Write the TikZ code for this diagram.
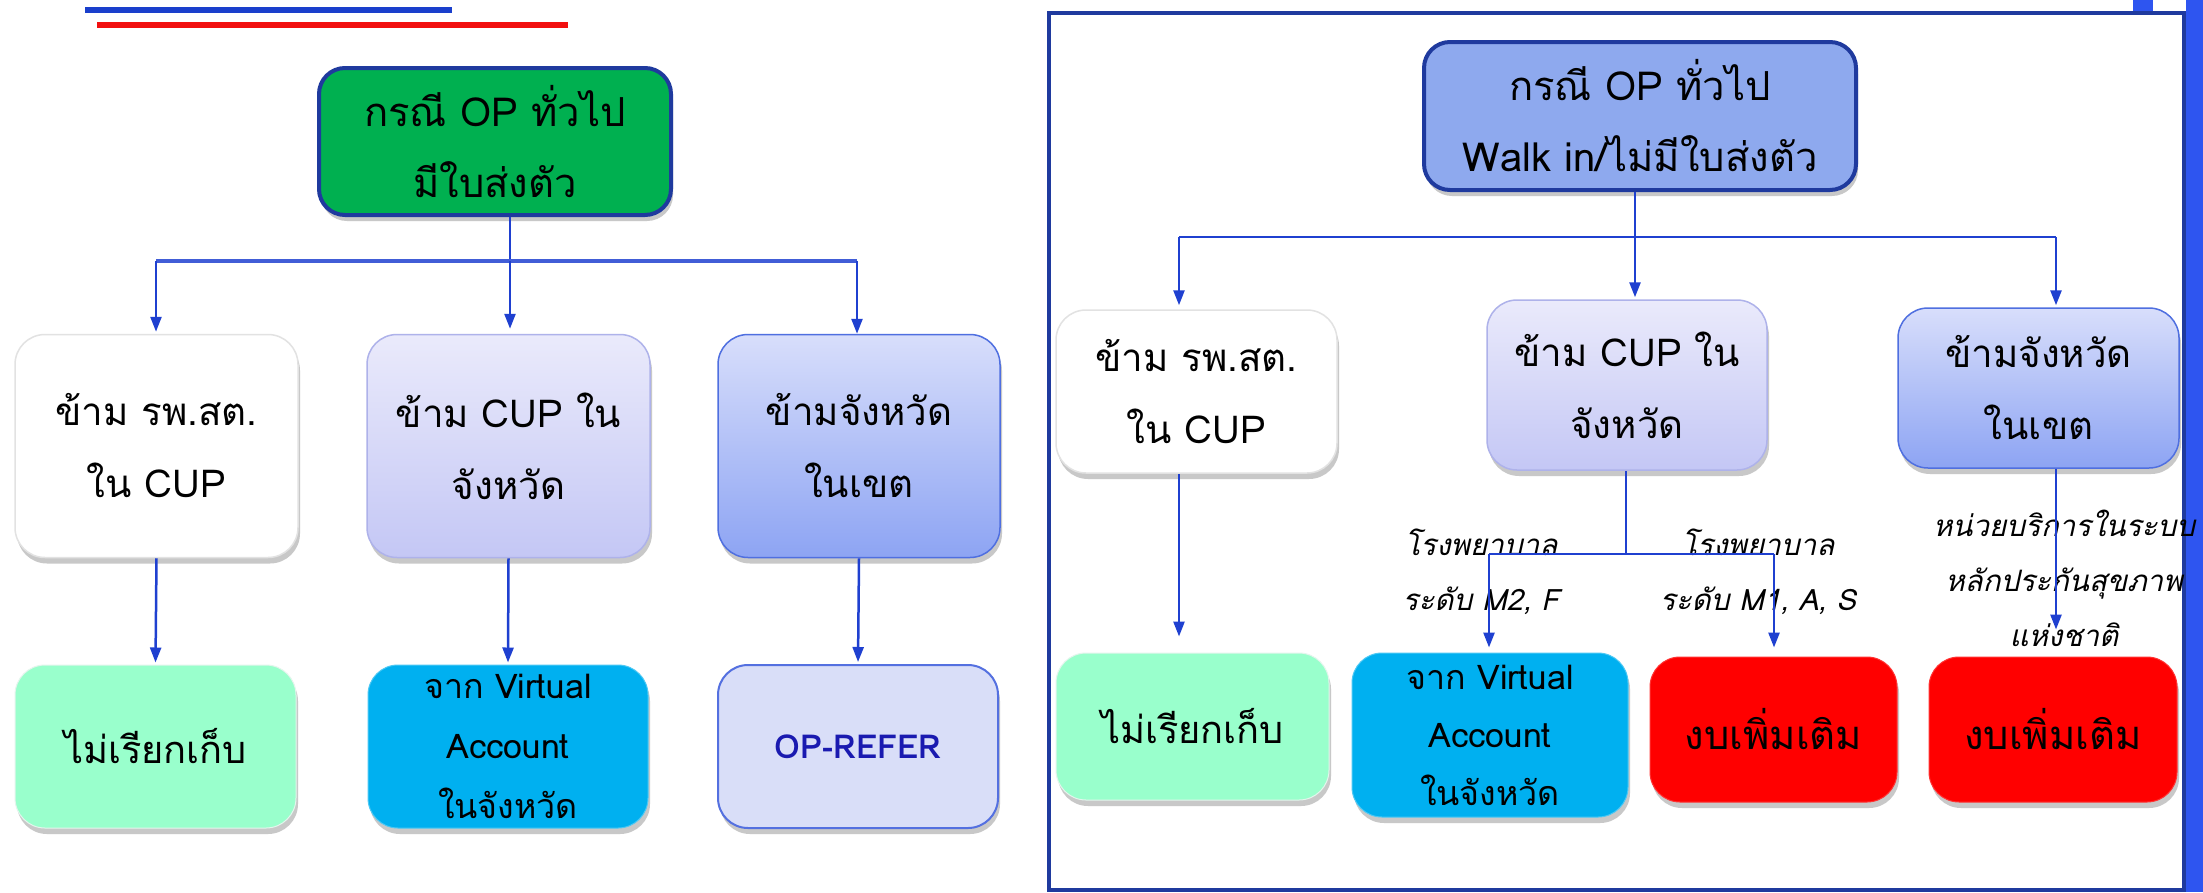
\documentclass[tikz,border=0pt]{standalone}
\usepackage{fontspec}
\newfontfamily\thaifont[Script=Thai]{Loma}
\newfontfamily\thaiitfont[Script=Thai,FakeSlant=0.22]{Loma}
\usetikzlibrary{arrows.meta,shadows,calc}
\definecolor{navy}{HTML}{1F3A9E}
\definecolor{conn}{HTML}{1F40D0}
\definecolor{greenbox}{HTML}{00B050}
\definecolor{topblue}{HTML}{8EA9EE}
\definecolor{mint}{HTML}{99FFCC}
\definecolor{cyanbox}{HTML}{00B0F0}
\definecolor{redbox}{HTML}{FF0000}
\definecolor{referfill}{HTML}{D9DEF8}
\definecolor{referborder}{HTML}{5470E0}
\definecolor{lavA}{HTML}{EAEAFB}
\definecolor{lavB}{HTML}{C4C7F5}
\definecolor{lavborder}{HTML}{AEB2EA}
\definecolor{bluA}{HTML}{D8DEFB}
\definecolor{bluB}{HTML}{8DA4F3}
\definecolor{bluborder}{HTML}{4F6FE0}
\definecolor{refertext}{HTML}{1A1AB0}
\definecolor{stripe}{HTML}{2E55F0}
\definecolor{greyborder}{HTML}{E2E2E2}
\definecolor{topline}{HTML}{1A3FCC}
\definecolor{topred}{HTML}{F21010}
\tikzset{
  box/.style={rounded corners=30pt, inner sep=0pt, align=center,
    font=\thaifont\fontsize{38.5}{72}\selectfont,
    drop shadow={shadow xshift=2pt, shadow yshift=-6pt, opacity=0.3, fill=black!70}},
  headbox/.style={box, rounded corners=26pt, draw=navy, line width=4pt,
    font=\thaifont\fontsize{40}{71}\selectfont},
  whitebox/.style={box, fill=white, draw=greyborder, line width=1.5pt},
  lavbox/.style={box, top color=lavA, bottom color=lavB, draw=lavborder, line width=1.5pt},
  blubox/.style={box, top color=bluA, bottom color=bluB, draw=bluborder, line width=1.5pt},
  mintbox/.style={box, fill=mint, draw=mint!80!black!20, line width=1pt,
    font=\thaifont\fontsize{38}{72}\selectfont},
  cyanstyle/.style={box, fill=cyanbox, draw=cyanbox!70!white, line width=1pt,
    font=\thaifont\fontsize{34}{60}\selectfont},
  referbox/.style={box, fill=referfill, draw=referborder, line width=2pt,
    font=\thaifont\bfseries\fontsize{33}{40}\selectfont, text=refertext},
  redstyle/.style={box, fill=redbox, draw=redbox!80!white, line width=1pt,
    font=\thaifont\fontsize{40}{72}\selectfont},
  lbl/.style={align=center, inner sep=0pt, font=\thaiitfont\fontsize{29.5}{55}\selectfont},
  conline/.style={draw=conn, line width=2.5pt},
  arr/.style={conline, -{Triangle[length=15pt,width=11pt]}},
}
\begin{document}
\begin{tikzpicture}[x=1pt,y=-1pt]
\useasboundingbox (0,0) rectangle (2203,892);
\fill[white] (0,0) rectangle (2203,892);

% top-left decoration lines
\draw[topline, line width=6pt] (85,10) -- (452,10);
\draw[topred, line width=6pt] (97,25) -- (568,25);

% right panel frame and stripe
\fill[stripe] (2186,0) rectangle (2203,892);
\fill[stripe] (2133,0) rectangle (2153,12);
\draw[navy, line width=4pt] (1049,13) rectangle (2184,890);

% ---------------- left panel ----------------
\node[headbox, fill=greenbox, minimum width=352pt, minimum height=147pt] (L0) at (495,141.5) {กรณี OP ทั่วไป\\มีใบส่งตัว};
\node[whitebox, minimum width=283pt, minimum height=223pt] (L1) at (156.5,446) {ข้าม รพ.สต.\\ใน CUP};
\node[lavbox, minimum width=283pt, minimum height=223pt] (L2) at (508.5,446) {ข้าม CUP ใน\\จังหวัด};
\node[blubox, minimum width=282pt, minimum height=223pt] (L3) at (859,446) {ข้ามจังหวัด\\ในเขต};
\node[mintbox, minimum width=281pt, minimum height=163pt] (L4) at (155.5,746.5) {ไม่เรียกเก็บ};
\node[cyanstyle, minimum width=280pt, minimum height=163pt] (L5) at (508,746.5) {จาก Virtual\\Account\\ในจังหวัด};
\node[referbox, minimum width=280pt, minimum height=163pt] (L6) at (858,746.5) {OP-REFER};

\coordinate (Lj) at (510,261);
\coordinate (Lh1) at (156,261);
\coordinate (Lh3) at (857,261);
\draw[conline] ([xshift=15pt]L0.south) -- (Lj);
\draw[conline, line width=3.5pt, draw=conn!85!white] (Lh1) -- (Lh3);
\draw[arr, shorten >=2pt] (Lh1) -- (Lh1 |- L1.north);
\draw[arr, shorten >=5pt] (Lj) -- (Lj |- L2.north);
\draw[arr] (Lh3) -- (Lh3 |- L3.north);
\draw[arr, shorten >=2pt] (L1.south) -- (L4.north);
\draw[arr, shorten >=2pt] (L2.south) -- (L5.north);
\draw[arr, shorten >=2pt] (L3.south) -- (L6.north);

% ---------------- right panel ----------------
\node[headbox, fill=topblue, minimum width=432pt, minimum height=148pt] (R0) at (1640,116) {กรณี OP ทั่วไป\\Walk in/ไม่มีใบส่งตัว};
\node[whitebox, minimum width=281pt, minimum height=163pt] (R1) at (1196.5,391.5) {ข้าม รพ.สต.\\ใน CUP};
\node[lavbox, minimum width=280pt, minimum height=170pt] (R2) at (1627,385) {ข้าม CUP ใน\\จังหวัด};
\node[blubox, minimum width=281pt, minimum height=160pt] (R3) at (2038.5,388) {ข้ามจังหวัด\\ในเขต};
\node[mintbox, minimum width=273pt, minimum height=147pt] (R4) at (1192.5,726.5) {ไม่เรียกเก็บ};
\node[cyanstyle, font=\thaifont\fontsize{34}{58}\selectfont, minimum width=276pt, minimum height=164pt] (R5) at (1490,735) {จาก Virtual\\Account\\ในจังหวัด};
\node[redstyle, minimum width=247pt, minimum height=145pt] (R6) at (1773.5,729.5) {งบเพิ่มเติม};
\node[redstyle, minimum width=248pt, minimum height=145pt] (R7) at (2053,729.5) {งบเพิ่มเติม};

\node[lbl] (T1) at (1481,572) {โรงพยาบาล\\ระดับ M2, F};
\node[lbl] (T2) at (1758,572) {โรงพยาบาล\\ระดับ M1, A, S};
\node[lbl] (T3) at (2064,578) {หน่วยบริการในระบบ\\หลักประกันสุขภาพ\\แห่งชาติ};

\coordinate (Rj) at (1635,237);
\coordinate (Rh1) at (1179,237);
\coordinate (Rh3) at (2056,237);
\draw[conline] (R0.south -| Rj) -- (Rj);
\draw[conline] (Rh1) -- (Rh3);
\draw[arr, shorten >=4pt] (Rh1) -- (Rh1 |- R1.north);
\draw[arr, shorten >=2pt] (Rj) -- (Rj |- R2.north);
\draw[arr, shorten >=2pt] (Rh3) -- (Rh3 |- R3.north);
\draw[arr, shorten >=16pt] (R1.south -| Rh1) -- (R4.north -| Rh1);

\coordinate (Rb) at (1626,554);
\coordinate (Rb1) at (1489,554);
\coordinate (Rb2) at (1774,554);
\draw[conline] (R2.south -| Rb) -- (Rb);
\draw[conline] (Rb1) -- (Rb2);
\draw[arr, shorten >=5pt] (Rb1) -- (Rb1 |- R5.north);
\draw[arr, shorten >=9pt] (Rb2) -- (Rb2 |- R6.north);
\draw[arr, shorten >=27pt] (R3.south -| Rh3) -- (R7.north -| Rh3);
\end{tikzpicture}
\end{document}
